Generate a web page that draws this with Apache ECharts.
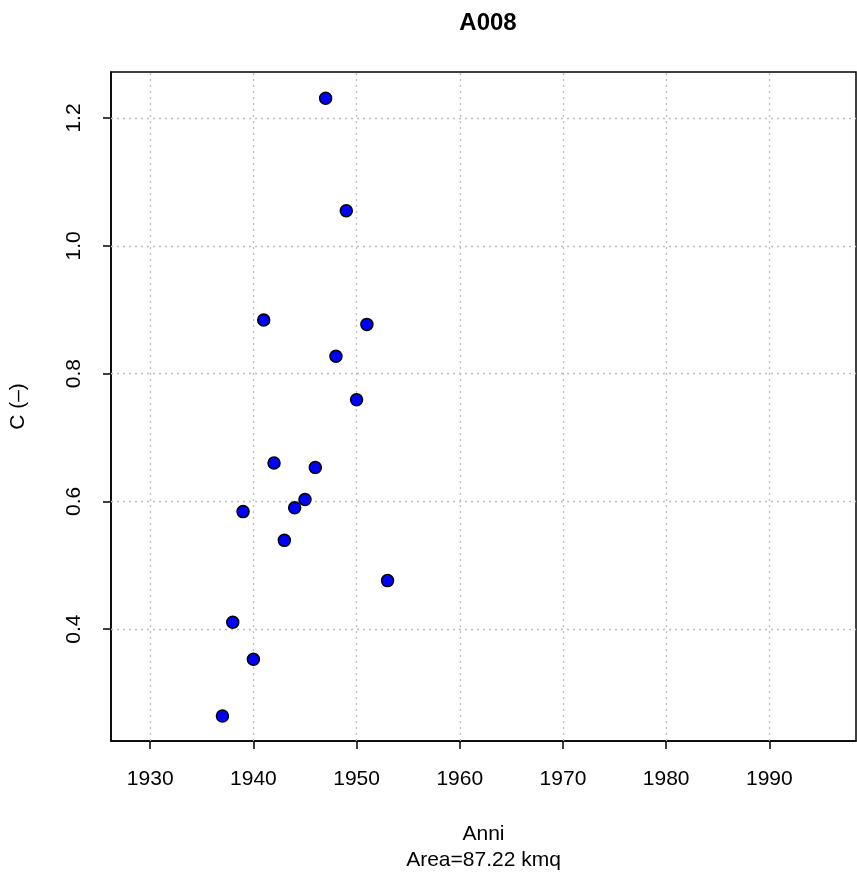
<!DOCTYPE html>
<html lang="en">

<head>
    <meta charset="UTF-8">
    <title>A008</title>
    <style>
        * {
            margin: 0;
            padding: 0;
        }

        body {
            background: #ffffff;
        }

        .box {
            width: 857px;
            height: 878px;
        }
    </style>
</head>

<body>
    <div class="box"></div>

    <script src="https://cdn.jsdelivr.net/npm/echarts@6/dist/echarts.min.js"></script>
    <script>
        // data
        var years = [1937, 1938, 1939, 1940, 1941, 1942, 1943, 1944, 1945, 1946, 1947, 1948, 1949, 1950, 1951, 1953];
        var cValues = [0.264, 0.411, 0.584, 0.353, 0.884, 0.660, 0.539, 0.590, 0.603, 0.653, 1.231, 0.827, 1.055, 0.759, 0.877, 0.476];
        var xTicks = [1930, 1940, 1950, 1960, 1970, 1980, 1990];
        var yTicks = [0.4, 0.6, 0.8, 1.0, 1.2];

        var chart = echarts.init(document.querySelector('.box'));

        var points = years.map(function (y, i) {
            return [y, cValues[i]];
        });

        var font = 'Liberation Sans, Arial, Helvetica, sans-serif';

        // dotted grid, one line per tick
        var gridLines = [];
        xTicks.forEach(function (v) {
            gridLines.push({ xAxis: v });
        });
        yTicks.forEach(function (v) {
            gridLines.push({ yAxis: v });
        });

        var option = {
            backgroundColor: '#ffffff',
            animation: false,
            title: {
                text: 'A008',
                left: 483,
                textAlign: 'center',
                top: 6,
                textStyle: {
                    fontFamily: font,
                    fontWeight: 'bold',
                    fontSize: 24,
                    color: '#000'
                }
            },
            grid: {
                left: 110,
                right: 1,
                top: 72,
                bottom: 135,
                show: true,
                borderColor: '#000',
                borderWidth: 1.5,
                backgroundColor: 'transparent'
            },
            xAxis: {
                type: 'value',
                min: 1926.2,
                max: 1998.4,
                name: 'Anni\nArea=87.22 kmq',
                nameLocation: 'middle',
                nameGap: 80,
                nameTextStyle: {
                    fontFamily: font,
                    fontSize: 21,
                    color: '#000',
                    lineHeight: 26
                },
                axisLine: { show: true, lineStyle: { color: '#000', width: 1.5 } },
                axisTick: {
                    show: true,
                    length: 8,
                    customValues: xTicks,
                    lineStyle: { color: '#000', width: 1.5 }
                },
                axisLabel: {
                    customValues: xTicks,
                    margin: 28,
                    fontFamily: font,
                    fontSize: 21,
                    color: '#000',
                    formatter: function (v) {
                        return String(v);
                    }
                },
                splitLine: { show: false }
            },
            yAxis: {
                type: 'value',
                min: 0.225,
                max: 1.272,
                name: 'C (\u2013)',
                nameLocation: 'middle',
                nameRotate: 90,
                nameGap: 82,
                nameTextStyle: {
                    fontFamily: font,
                    fontSize: 21,
                    color: '#000'
                },
                axisLine: { show: true, lineStyle: { color: '#000', width: 1.5 } },
                axisTick: {
                    show: true,
                    length: 8,
                    customValues: yTicks,
                    lineStyle: { color: '#000', width: 1.5 }
                },
                axisLabel: {
                    customValues: yTicks,
                    rotate: 90,
                    margin: 26,
                    fontFamily: font,
                    fontSize: 21,
                    color: '#000',
                    formatter: function (v) {
                        return v.toFixed(1);
                    }
                },
                splitLine: { show: false }
            },
            series: [
                {
                    name: 'C',
                    type: 'scatter',
                    data: points,
                    symbol: 'circle',
                    symbolSize: 12,
                    itemStyle: {
                        color: '#0000ff',
                        borderColor: '#000',
                        borderWidth: 1.5,
                        opacity: 1
                    },
                    z: 5,
                    markLine: {
                        silent: true,
                        symbol: 'none',
                        label: { show: false },
                        lineStyle: {
                            color: '#bdbdbd',
                            width: 1.3,
                            type: [2, 4]
                        },
                        data: gridLines
                    }
                }
            ]
        };
        chart.setOption(option);
    </script>
</body>

</html>
